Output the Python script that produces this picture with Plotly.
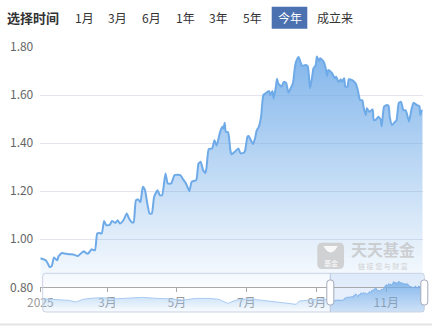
import plotly.graph_objects as go

# ---------------- data ----------------
NAV_DAYS = ["01-01", "01-03", "01-06", "01-08", "01-09", "01-11", "01-13", "01-15", "01-16", "01-17",
            "01-20", "01-22", "01-26", "01-31", "02-03", "02-08", "02-10", "02-12", "02-15", "02-18",
            "02-20", "02-22", "02-24", "02-26", "02-28", "03-03", "03-05", "03-08", "03-10", "03-12",
            "03-15", "03-18", "03-20", "03-22", "03-24", "03-26", "03-28", "03-30", "04-01", "04-03",
            "04-05", "04-07", "04-09", "04-11", "04-14", "04-16", "04-18", "04-21", "04-23", "04-26",
            "04-29", "05-04", "05-06", "05-09", "05-12", "05-14", "05-18", "05-20", "05-22", "05-24",
            "05-26", "05-27", "05-29", "06-01", "06-03", "06-05", "06-08", "06-10", "06-11", "06-12",
            "06-13", "06-15", "06-17", "06-18", "06-21", "06-24", "06-26", "06-29", "06-30", "07-02",
            "07-03", "07-05", "07-07", "07-09", "07-10", "07-12", "07-14", "07-16", "07-18", "07-21",
            "07-22", "07-24", "07-25", "07-27", "07-28", "07-29", "08-01", "08-03", "08-05", "08-07",
            "08-09", "08-11", "08-13", "08-15", "08-16", "08-19", "08-22", "08-24", "08-26", "08-28",
            "08-29", "08-31", "09-01", "09-03", "09-04", "09-07", "09-09", "09-10", "09-11", "09-14",
            "09-17", "09-18", "09-20", "09-22", "09-23", "09-25", "09-26", "09-28", "09-29", "10-02",
            "10-05", "10-07", "10-09", "10-11", "10-12", "10-14", "10-15", "10-17", "10-20", "10-21",
            "10-23", "10-25", "10-27", "10-28", "10-30", "11-01", "11-03", "11-04", "11-06", "11-08",
            "11-10", "11-12", "11-14", "11-16", "11-18", "11-19", "11-21", "11-23", "11-25", "11-28",
            "11-30", "12-01", "12-02", "12-03"]
NAV_VALUES = [0.921, 0.918, 0.912, 0.895, 0.885, 0.888, 0.924, 0.915, 0.913, 0.929,
              0.943, 0.941, 0.938, 0.935, 0.930, 0.950, 0.943, 0.940, 0.958, 0.954,
              1.024, 1.026, 1.024, 1.076, 1.058, 1.060, 1.076, 1.068, 1.079, 1.065,
              1.079, 1.107, 1.086, 1.072, 1.070, 1.162, 1.165, 1.155, 1.218, 1.204,
              1.149, 1.107, 1.107, 1.176, 1.204, 1.183, 1.183, 1.274, 1.232, 1.232,
              1.267, 1.267, 1.253, 1.232, 1.200, 1.239, 1.246, 1.315, 1.322, 1.288,
              1.276, 1.295, 1.375, 1.378, 1.412, 1.390, 1.447, 1.468, 1.461, 1.485,
              1.447, 1.445, 1.371, 1.353, 1.364, 1.378, 1.357, 1.361, 1.370, 1.426,
              1.430, 1.412, 1.396, 1.426, 1.451, 1.468, 1.510, 1.600, 1.607, 1.617,
              1.600, 1.617, 1.585, 1.635, 1.668, 1.649, 1.635, 1.655, 1.651, 1.610,
              1.628, 1.649, 1.725, 1.753, 1.758, 1.722, 1.725, 1.720, 1.628, 1.680,
              1.711, 1.725, 1.760, 1.742, 1.753, 1.739, 1.707, 1.679, 1.704, 1.693,
              1.670, 1.676, 1.655, 1.665, 1.655, 1.670, 1.635, 1.635, 1.665, 1.662,
              1.649, 1.620, 1.579, 1.578, 1.551, 1.517, 1.545, 1.530, 1.540, 1.496,
              1.498, 1.510, 1.499, 1.470, 1.551, 1.558, 1.555, 1.510, 1.475, 1.485,
              1.496, 1.568, 1.572, 1.537, 1.537, 1.524, 1.490, 1.537, 1.568, 1.558,
              1.555, 1.517, 1.535, 1.537]
YEAR = "2025"

# history shown in the zoom slider (since inception)
HIST_DATES = ["2022-03-07", "2022-04-24", "2022-06-09", "2022-07-04", "2022-07-28", "2022-09-02",
              "2022-10-08", "2022-11-25", "2023-01-10", "2023-02-28", "2023-04-17", "2023-06-03",
              "2023-07-22", "2023-09-08", "2023-10-24", "2023-11-29", "2023-12-30", "2024-01-29",
              "2024-03-16", "2024-05-04", "2024-06-20", "2024-08-06", "2024-08-31", "2024-09-11",
              "2024-10-30", "2024-12-05", "2024-12-31"]
HIST_VALUES = [1.007, 0.981, 0.937, 0.863, 0.981, 1.038, 1.051, 1.007, 1.025, 1.069, 1.025, 1.007,
               0.950, 1.025, 1.025, 0.981, 0.806, 0.950, 1.007, 0.937, 0.863, 0.806, 0.763, 0.907,
               0.981, 1.007, 0.921]

X_TICK_VALS = ["2025-01-01", "2025-03-01", "2025-05-01", "2025-07-01", "2025-09-01", "2025-11-01"]
X_TICK_TEXT = ["2025", "3月", "5月", "7月", "9月", "11月"]
Y_TICKS = [0.8, 1.0, 1.2, 1.4, 1.6, 1.8]

BUTTONS = ["1月", "3月", "6月", "1年", "3年", "5年", "今年", "成立来"]
ACTIVE = "今年"

nav_x = [YEAR + "-" + d for d in NAV_DAYS]

# ---------------- layout geometry ----------------
W, H = 432, 326
ML, MR, MT, MB = 40, 4, 47, 13
PW = W - ML - MR
PH = H - MT - MB


def px(x):
    return (x - ML) / PW


def py(y):
    return (H - MB - y) / PH


def rrect(x0, y0, x1, y1, r):
    pts = [("M", x0 + r, y0), ("L", x1 - r, y0), ("Q", x1, y0, x1, y0 + r), ("L", x1, y1 - r),
           ("Q", x1, y1, x1 - r, y1), ("L", x0 + r, y1), ("Q", x0, y1, x0, y1 - r), ("L", x0, y0 + r),
           ("Q", x0, y0, x0 + r, y0)]
    s = ""
    for p in pts:
        if p[0] == "Q":
            s += "Q%.5f,%.5f %.5f,%.5f " % (px(p[1]), py(p[2]), px(p[3]), py(p[4]))
        else:
            s += "%s%.5f,%.5f " % (p[0], px(p[1]), py(p[2]))
    return s + "Z"


FONT = "Microsoft YaHei, Noto Sans CJK SC, sans-serif"

fig = go.Figure()

# main area chart
fig.add_trace(go.Scatter(
    x=nav_x, y=NAV_VALUES, mode="lines", xaxis="x", yaxis="y",
    line=dict(color="#6eaae8", width=2, shape="spline", smoothing=0.5),
    fill="tozeroy",
    fillgradient=dict(type="vertical",
                      colorscale=[[0, "rgba(110,170,232,0.03)"], [1, "rgba(110,170,232,0.85)"]],
                      start=0.8, stop=1.76),
    hoverinfo="skip"))

# slider mini chart: history part (unselected)
fig.add_trace(go.Scatter(
    x=HIST_DATES, y=HIST_VALUES, mode="lines", xaxis="x2", yaxis="y2",
    line=dict(color="#a9cbf1", width=1),
    fill="tozeroy",
    fillgradient=dict(type="vertical",
                      colorscale=[[0, "rgba(150,195,240,0.05)"], [1, "rgba(150,195,240,0.45)"]],
                      start=0.43, stop=1.07),
    hoverinfo="skip"))
# slider mini chart: selected part (this year)
fig.add_trace(go.Scatter(
    x=nav_x, y=NAV_VALUES, mode="lines", xaxis="x2", yaxis="y2",
    line=dict(color="#7fb1ea", width=1),
    fill="tozeroy",
    fillgradient=dict(type="vertical",
                      colorscale=[[0, "rgba(110,170,232,0.2)"], [1, "rgba(110,170,232,0.8)"]],
                      start=0.43, stop=1.76),
    hoverinfo="skip"))

shapes = []
# selected window background in slider
shapes.append(dict(type="rect", xref="x2", yref="y2 domain", x0=nav_x[0], x1=nav_x[-1], y0=0, y1=1,
                   fillcolor="rgba(222,234,250,0.75)", line_width=0, layer="below"))
# slider frame
shapes.append(dict(type="path", xref="paper", yref="paper", path=rrect(42.7, 273.3, 424.3, 312, 3),
                   line=dict(color="#c9d2e4", width=1), fillcolor="rgba(0,0,0,0)", layer="above"))
shapes.append(dict(type="line", xref="paper", yref="paper", x0=px(330.3), x1=px(330.3),
                   y0=py(273.3), y1=py(312), line=dict(color="#b6c3dc", width=1), layer="above"))
# handles
for hx in (330.3, 424.3):
    shapes.append(dict(type="path", xref="paper", yref="paper",
                       path=rrect(hx - 3.5, 280, hx + 3.5, 305, 3),
                       line=dict(color="#a3abbb", width=1), fillcolor="#ffffff", layer="above"))
# bottom separator
shapes.append(dict(type="line", xref="paper", yref="paper", x0=px(0), x1=px(432), y0=py(324.5), y1=py(324.5),
                   line=dict(color="#e4e4e4", width=2), layer="above"))
# active button background
shapes.append(dict(type="rect", xref="paper", yref="paper", x0=px(271.7), x1=px(307.3), y0=py(28.7), y1=py(6.7),
                   fillcolor="#4b71b0", line_width=0, layer="above"))
# watermark icon
shapes.append(dict(type="path", xref="paper", yref="paper", path=rrect(317.3, 242.7, 344, 269, 5),
                   fillcolor="rgba(200,200,200,0.8)", line_width=0, layer="above"))
shapes.append(dict(type="path", xref="paper", yref="paper",
                   path="M%.5f,%.5f Q%.5f,%.5f %.5f,%.5f Z" % (px(323.5), py(246), px(330.6), py(259),
                                                               px(337.8), py(246)),
                   fillcolor="rgba(255,255,255,0.85)", line_width=0, layer="above"))

annotations = []
# toolbar
annotations.append(dict(text="<b>选择时间</b>", x=px(33.3), y=py(17.5), xref="paper", yref="paper",
                        showarrow=False, xanchor="center", yanchor="middle",
                        font=dict(family=FONT, size=13, color="#333333")))
btn_cx = [84.5, 117.5, 151.5, 185, 218.5, 252.5, 289.5, 335]
for label, cx in zip(BUTTONS, btn_cx):
    annotations.append(dict(text=label, x=px(cx), y=py(17.8), xref="paper", yref="paper",
                            showarrow=False, xanchor="center", yanchor="middle",
                            font=dict(family=FONT, size=12,
                                      color="#ffffff" if label == ACTIVE else "#333333")))
# watermark texts
annotations.append(dict(text="基金", x=px(330.7), y=py(263), xref="paper", yref="paper", showarrow=False,
                        xanchor="center", yanchor="middle", borderpad=0,
                        font=dict(family=FONT, size=7, color="rgba(255,255,255,0.95)")))
annotations.append(dict(text="<b>天天基金</b>", x=px(383), y=py(248.5), xref="paper", yref="paper",
                        showarrow=False, xanchor="center", yanchor="middle", borderpad=0,
                        font=dict(family=FONT, size=16, color="rgba(195,195,195,0.75)")))
annotations.append(dict(text="链 接 您 与 财 富", x=px(383), y=py(265.5), xref="paper", yref="paper",
                        showarrow=False, xanchor="center", yanchor="middle", borderpad=0,
                        font=dict(family=FONT, size=7, color="rgba(195,195,195,0.75)")))

fig.update_layout(
    width=W, height=H,
    margin=dict(l=ML, r=MR, t=MT, b=MB, pad=0),
    paper_bgcolor="#ffffff", plot_bgcolor="rgba(0,0,0,0)",
    showlegend=False, hovermode=False,
    font=dict(family=FONT, size=12, color="#666666"),
    xaxis=dict(domain=[px(40.3), px(422.7)], type="date", range=[nav_x[0], nav_x[-1]],
               tickvals=X_TICK_VALS, ticktext=X_TICK_TEXT, showgrid=False, zeroline=False,
               showline=True, linecolor="#a9a9a9", linewidth=1, ticks="outside", ticklen=4,
               tickcolor="#a9a9a9", tickfont=dict(size=12, color="#9a9a9a"), anchor="y",
               fixedrange=True),
    yaxis=dict(domain=[py(287.3), 1], range=[0.8, 1.8], tickvals=Y_TICKS, tickformat=".2f",
               showgrid=True, gridcolor="#e4e4ec", gridwidth=1, zeroline=False, showline=False,
               ticks="", ticklabelstandoff=6, tickfont=dict(size=12, color="#666666"), anchor="x",
               fixedrange=True),
    xaxis2=dict(domain=[px(42.7), px(424.3)], type="date", range=[HIST_DATES[0], nav_x[-1]],
                visible=False, anchor="y2", fixedrange=True),
    yaxis2=dict(domain=[py(312), py(273.3)], range=[0.43, 2.12], visible=False, anchor="x2",
                fixedrange=True),
    shapes=shapes, annotations=annotations,
)

fig.write_html("out.html", config={"displayModeBar": False})
